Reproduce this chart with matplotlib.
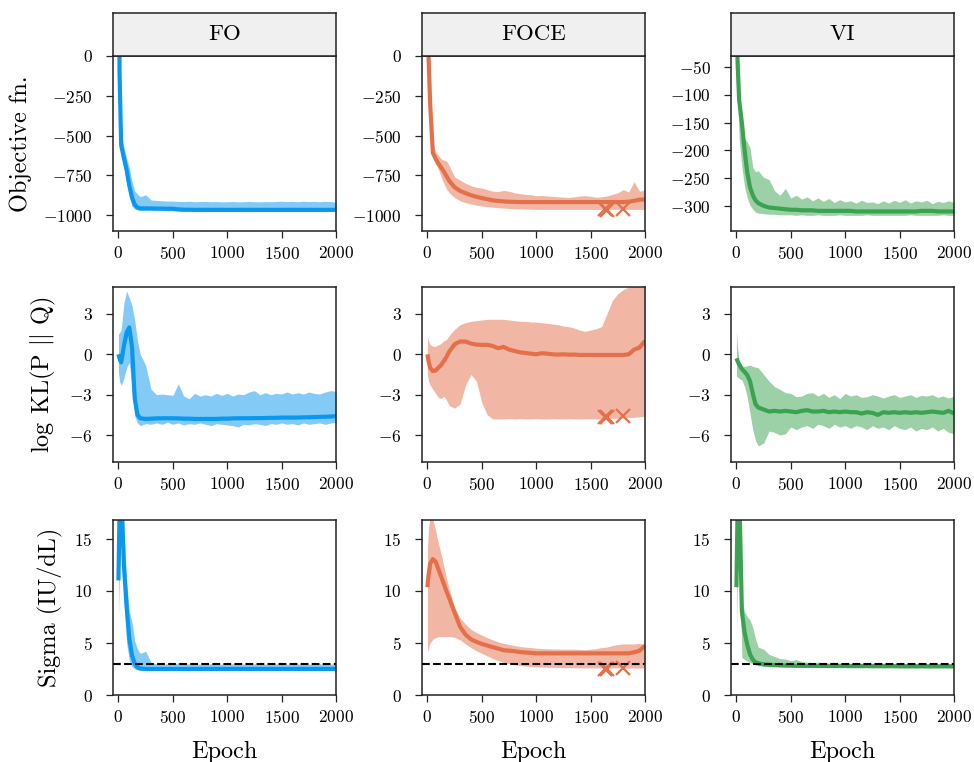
import matplotlib
matplotlib.use("Agg")
import matplotlib.pyplot as plt

# ---------------------------------------------------------------------------
# Data
# ---------------------------------------------------------------------------
EPOCHS = [0, 10, 25, 50, 75, 100, 125, 150, 175, 200,
          250, 300, 350, 400, 450, 500, 550, 600, 650, 700,
          750, 800, 850, 900, 950, 1000, 1050, 1100, 1150, 1200,
          1250, 1300, 1350, 1400, 1450, 1500, 1550, 1600, 1650, 1700,
          1750, 1800, 1850, 1900, 1950, 2000]

METHODS = ["FO", "FOCE", "VI"]
COLORS = ["#0A97EE", "#E4704A", "#3BA24F"]
ROW_LABELS = ["Objective fn.", r"log KL(P $||$ Q)", "Sigma (IU/dL)"]

# --- Objective function ---------------------------------------------------
FO_OBJ_MEAN = [3000, -100, -560, -640, -715, -815, -890, -935, -952, -958,
               -958, -958, -959, -959, -960, -960, -964, -966, -966, -967,
               -967, -967, -967, -967, -967, -967, -967, -967, -967, -967,
               -967, -967, -967, -967, -967, -967, -967, -967, -967, -967,
               -967, -967, -967, -967, -967, -967]
FO_OBJ_HI = [3000, 600, -480, -570, -640, -700, -790, -850, -868, -885,
             -872, -905, -908, -910, -912, -912, -914, -915, -913, -916,
             -915, -914, -916, -915, -917, -916, -915, -917, -916, -914,
             -916, -917, -915, -916, -914, -913, -915, -914, -916, -913,
             -915, -914, -916, -913, -915, -918]
FO_OBJ_LO = [1500, -300, -620, -700, -790, -880, -945, -962, -968, -970,
             -970, -971, -972, -972, -973, -973, -975, -976, -976, -977,
             -977, -977, -977, -977, -977, -977, -977, -977, -977, -977,
             -977, -977, -977, -977, -977, -977, -977, -977, -977, -977,
             -977, -977, -977, -977, -977, -977]

FOCE_OBJ_MEAN = [3000, 0, -300, -610, -645, -675, -700, -725, -755, -785,
                 -825, -848, -862, -875, -885, -893, -900, -907, -911, -914,
                 -916, -917, -918, -918, -918, -918, -918, -918, -918, -918,
                 -918, -918, -918, -918, -918, -918, -918, -918, -918, -918,
                 -918, -918, -916, -910, -903, -902]
FOCE_OBJ_HI = [3000, 500, -150, -560, -600, -625, -645, -655, -660, -690,
               -760, -780, -800, -815, -825, -830, -840, -850, -852, -845,
               -850, -860, -865, -870, -872, -878, -876, -880, -882, -885,
               -887, -889, -885, -880, -878, -882, -888, -885, -880, -870,
               -860, -840, -855, -790, -850, -842]
FOCE_OBJ_LO = [2000, -200, -450, -630, -680, -710, -760, -800, -835, -860,
               -890, -910, -922, -930, -937, -943, -947, -950, -954, -956,
               -958, -960, -961, -962, -963, -964, -964, -964, -964, -964,
               -964, -964, -964, -964, -964, -964, -964, -964, -964, -964,
               -964, -964, -964, -964, -964, -964]

VI_OBJ_MEAN = [200, -40, -110, -150, -200, -240, -266, -280, -289, -294,
               -299, -302, -303, -304, -305, -306, -306, -307, -307, -307,
               -308, -308, -308, -308, -308, -308, -308, -309, -309, -309,
               -309, -309, -309, -309, -309, -309, -309, -309, -309, -308,
               -308, -308, -309, -309, -309, -309]
VI_OBJ_HI = [200, 100, -100, -170, -178, -185, -195, -230, -238, -236,
             -248, -252, -272, -280, -268, -285, -280, -287, -283, -290,
             -285, -291, -286, -293, -288, -292, -290, -294, -289, -293,
             -292, -295, -290, -294, -289, -293, -288, -294, -290, -292,
             -289, -295, -291, -293, -290, -293]
VI_OBJ_LO = [100, -100, -180, -230, -265, -285, -298, -305, -310, -312,
             -313, -314, -314, -315, -315, -315, -316, -315, -316, -316,
             -315, -316, -316, -316, -315, -316, -316, -316, -316, -315,
             -316, -316, -316, -316, -316, -316, -316, -315, -316, -316,
             -316, -316, -316, -315, -316, -316]

# --- log KL ---------------------------------------------------------------
FO_KL_MEAN = [0.0, -0.3, -0.6, 0.6, 1.6, 2.0, 0.5, -3.3, -4.5, -4.75,
              -4.8, -4.78, -4.76, -4.75, -4.75, -4.75, -4.76, -4.78, -4.78, -4.8,
              -4.8, -4.8, -4.8, -4.8, -4.78, -4.78, -4.76, -4.75, -4.75, -4.75,
              -4.74, -4.74, -4.73, -4.72, -4.72, -4.7, -4.7, -4.7, -4.7, -4.68,
              -4.68, -4.66, -4.65, -4.64, -4.62, -4.6]
FO_KL_HI = [1.5, 1.6, 1.8, 3.8, 4.7, 4.2, 3.6, 2.5, 1.0, 0.0,
            -0.8, -2.6, -3.0, -2.95, -3.0, -3.05, -2.2, -3.1, -3.3, -2.9,
            -3.1, -3.0, -3.1, -2.9, -3.05, -2.9, -3.1, -2.95, -3.0, -2.8,
            -2.7, -3.0, -2.85, -3.0, -2.9, -2.95, -2.8, -2.95, -2.85, -2.95,
            -2.8, -2.9, -2.95, -2.8, -2.7, -2.75]
FO_KL_LO = [-1.3, -2.0, -2.3, -1.8, -1.0, -0.6, -2.6, -4.6, -5.1, -5.3,
            -5.15, -5.2, -5.1, -5.2, -5.05, -5.2, -5.1, -5.25, -5.15, -5.2,
            -5.1, -5.2, -5.3, -5.15, -5.2, -5.25, -5.3, -5.4, -5.2, -5.25,
            -5.15, -5.2, -5.3, -5.15, -5.2, -5.1, -5.2, -5.15, -5.25, -5.1,
            -5.2, -5.15, -5.1, -5.2, -5.1, -5.05]

FOCE_KL_MEAN = [0.0, -0.5, -1.0, -1.25, -1.2, -1.0, -0.8, -0.5, -0.2, 0.2,
                0.75, 0.95, 0.95, 0.8, 0.72, 0.7, 0.7, 0.62, 0.45, 0.55,
                0.35, 0.25, 0.15, 0.1, 0.05, 0.0, 0.08, 0.05, 0.0, -0.02,
                0.0, -0.03, -0.02, -0.05, -0.05, -0.05, -0.05, -0.05, -0.05, -0.05,
                -0.05, -0.05, 0.0, 0.35, 0.5, 1.0]
FOCE_KL_HI = [1.3, 1.0, 0.7, 0.6, 0.6, 0.7, 0.8, 1.0, 1.1, 1.4,
              1.85, 2.2, 2.35, 2.45, 2.5, 2.55, 2.6, 2.6, 2.6, 2.6,
              2.55, 2.5, 2.45, 2.45, 2.4, 2.4, 2.35, 2.3, 2.25, 2.2,
              2.1, 2.05, 1.95, 1.8, 1.7, 1.8, 1.9, 2.05, 3.0, 4.0,
              4.5, 4.8, 5.0, 5.2, 5.4, 5.5]
FOCE_KL_LO = [-1.5, -2.0, -2.3, -2.6, -2.9, -3.2, -3.3, -3.1, -3.4, -3.8,
              -4.0, -3.7, -2.3, -1.5, -2.0, -3.6, -4.5, -4.8, -4.8, -4.8,
              -4.78, -4.8, -4.78, -4.8, -4.8, -4.78, -4.8, -4.8, -4.78, -4.8,
              -4.8, -4.78, -4.8, -4.8, -4.78, -4.8, -4.8, -4.78, -4.78, -4.75,
              -4.75, -4.72, -4.7, -4.68, -4.65, -4.6]

VI_KL_MEAN = [-0.3, -0.5, -0.75, -1.1, -1.3, -1.55, -2.0, -2.9, -3.7, -3.95,
              -4.1, -4.25, -4.2, -4.25, -4.2, -4.25, -4.3, -4.2, -4.15, -4.25,
              -4.25, -4.2, -4.3, -4.25, -4.3, -4.25, -4.3, -4.3, -4.4, -4.3,
              -4.35, -4.5, -4.3, -4.35, -4.3, -4.35, -4.3, -4.35, -4.3, -4.35,
              -4.3, -4.25, -4.3, -4.35, -4.2, -4.4]
VI_KL_HI = [1.7, 0.5, -0.5, -0.85, -0.9, -0.85, -0.8, -0.9, -0.95, -1.0,
            -1.5, -2.0, -2.4, -2.6, -2.85, -2.9, -3.15, -3.1, -2.9, -2.85,
            -3.1, -2.9, -3.2, -3.0, -3.3, -2.9, -3.1, -3.0, -3.2, -3.15,
            -3.0, -3.1, -3.25, -3.1, -3.0, -3.2, -3.1, -3.0, -3.2, -3.05,
            -3.1, -3.0, -3.2, -3.1, -3.25, -3.1]
VI_KL_LO = [-1.6, -1.7, -1.8, -1.9, -2.4, -3.2, -4.4, -5.6, -6.4, -6.8,
            -6.6, -5.7, -5.8, -6.0, -5.9, -5.4, -5.6, -5.4, -5.3, -5.5,
            -5.2, -5.3, -5.5, -5.2, -5.4, -5.3, -5.5, -5.3, -5.4, -5.6,
            -5.3, -5.5, -5.4, -5.6, -5.3, -5.5, -5.6, -5.4, -5.7, -5.5,
            -5.6, -5.4, -5.7, -5.5, -5.8, -5.9]

# --- Sigma ----------------------------------------------------------------
FO_SIG_MEAN = [11.0, 17.5, 20.0, 12.5, 8.5, 5.4, 3.8, 3.0, 2.65, 2.55,
               2.5, 2.5, 2.5, 2.5, 2.5, 2.5, 2.5, 2.5, 2.5, 2.5,
               2.5, 2.5, 2.5, 2.5, 2.5, 2.5, 2.5, 2.5, 2.5, 2.5,
               2.5, 2.5, 2.5, 2.5, 2.5, 2.5, 2.5, 2.5, 2.5, 2.5,
               2.5, 2.5, 2.5, 2.5, 2.5, 2.5]
FO_SIG_HI = [11.2, 18.0, 22.0, 16.0, 11.0, 8.0, 7.0, 5.2, 4.4, 4.0,
             4.2, 3.1, 3.0, 2.95, 3.0, 2.95, 3.1, 2.95, 3.0, 2.95,
             2.98, 2.95, 3.0, 2.95, 2.97, 2.95, 3.0, 2.95, 2.97, 2.95,
             3.0, 2.95, 2.97, 2.95, 3.0, 2.95, 2.97, 2.95, 3.0, 2.95,
             2.97, 2.95, 3.0, 2.95, 2.97, 2.95]
FO_SIG_LO = [7.4, 12.0, 16.0, 9.5, 5.0, 3.3, 2.7, 2.5, 2.4, 2.35,
             2.35, 2.35, 2.35, 2.35, 2.35, 2.35, 2.35, 2.35, 2.35, 2.35,
             2.35, 2.35, 2.35, 2.35, 2.35, 2.35, 2.35, 2.35, 2.35, 2.35,
             2.35, 2.35, 2.35, 2.35, 2.35, 2.35, 2.35, 2.35, 2.35, 2.35,
             2.35, 2.35, 2.35, 2.35, 2.35, 2.35]

FOCE_SIG_MEAN = [10.35, 11.5, 12.6, 13.05, 12.8, 12.1, 11.4, 10.7, 9.95, 9.3,
                 7.9, 6.55, 5.8, 5.35, 5.1, 4.9, 4.75, 4.6, 4.45, 4.3,
                 4.25, 4.2, 4.12, 4.08, 4.05, 4.0, 4.0, 4.0, 4.0, 4.0,
                 4.0, 4.0, 4.0, 4.0, 4.0, 4.0, 4.0, 4.0, 4.0, 4.0,
                 4.0, 4.0, 4.0, 4.1, 4.25, 4.75]
FOCE_SIG_HI = [14.0, 16.0, 17.2, 16.8, 15.8, 14.6, 13.6, 12.4, 11.2, 10.2,
               8.4, 7.4, 6.8, 6.3, 6.0, 5.75, 5.5, 5.3, 5.1, 4.95,
               4.85, 4.75, 4.65, 4.6, 4.55, 4.5, 4.45, 4.45, 4.42, 4.42,
               4.4, 4.4, 4.4, 4.38, 4.35, 4.4, 4.45, 4.55, 4.6, 4.75,
               4.85, 4.9, 4.9, 4.9, 4.95, 4.8]
FOCE_SIG_LO = [4.1, 4.5, 5.0, 5.35, 5.5, 5.6, 5.6, 5.6, 5.6, 5.6,
               5.55, 5.3, 4.9, 4.55, 4.25, 4.0, 3.75, 3.5, 3.3, 3.15,
               3.0, 2.9, 2.82, 2.78, 2.72, 2.7, 2.68, 2.66, 2.65, 2.64,
               2.63, 2.62, 2.62, 2.61, 2.6, 2.6, 2.6, 2.6, 2.6, 2.6,
               2.6, 2.6, 2.59, 2.59, 2.58, 2.58]

VI_SIG_MEAN = [10.35, 17.5, 20.0, 8.0, 6.0, 4.8, 3.9, 3.4, 3.15, 3.05,
               2.95, 2.9, 2.88, 2.85, 2.83, 2.82, 2.8, 2.8, 2.8, 2.8,
               2.79, 2.79, 2.78, 2.78, 2.78, 2.78, 2.77, 2.77, 2.77, 2.77,
               2.76, 2.76, 2.76, 2.76, 2.76, 2.75, 2.75, 2.75, 2.75, 2.75,
               2.75, 2.75, 2.75, 2.75, 2.75, 2.75]
VI_SIG_HI = [10.5, 18.0, 20.0, 9.0, 8.0, 7.5, 7.2, 6.5, 5.4, 4.6,
             4.4, 3.9, 3.7, 3.5, 3.45, 3.3, 3.4, 3.2, 3.15, 3.1,
             3.15, 3.1, 3.05, 3.15, 3.05, 3.1, 3.05, 3.12, 3.05, 3.1,
             3.05, 3.12, 3.05, 3.08, 3.04, 3.1, 3.04, 3.08, 3.03, 3.08,
             3.03, 3.06, 3.02, 3.06, 3.02, 3.0]
VI_SIG_LO = [5.8, 12.0, 14.0, 3.6, 3.4, 3.25, 3.1, 3.0, 2.9, 2.82,
             2.75, 2.72, 2.7, 2.7, 2.7, 2.69, 2.69, 2.68, 2.68, 2.68,
             2.67, 2.67, 2.67, 2.66, 2.66, 2.66, 2.66, 2.65, 2.65, 2.65,
             2.65, 2.64, 2.64, 2.64, 2.64, 2.63, 2.63, 2.63, 2.63, 2.63,
             2.63, 2.62, 2.62, 2.62, 2.62, 2.62]

# FOCE runs that failed (marked with x)
FAIL_EPOCHS = [1630, 1650, 1800]
FAIL_OBJ = [-962, -965, -962]
FAIL_KL = [-4.68, -4.62, -4.58]
FAIL_SIG = [2.45, 2.5, 2.55]

SIGMA_TRUE = 3.0

PANELS = [
    [(FO_OBJ_MEAN, FO_OBJ_LO, FO_OBJ_HI),
     (FOCE_OBJ_MEAN, FOCE_OBJ_LO, FOCE_OBJ_HI),
     (VI_OBJ_MEAN, VI_OBJ_LO, VI_OBJ_HI)],
    [(FO_KL_MEAN, FO_KL_LO, FO_KL_HI),
     (FOCE_KL_MEAN, FOCE_KL_LO, FOCE_KL_HI),
     (VI_KL_MEAN, VI_KL_LO, VI_KL_HI)],
    [(FO_SIG_MEAN, FO_SIG_LO, FO_SIG_HI),
     (FOCE_SIG_MEAN, FOCE_SIG_LO, FOCE_SIG_HI),
     (VI_SIG_MEAN, VI_SIG_LO, VI_SIG_HI)],
]
FAILS = [FAIL_OBJ, FAIL_KL, FAIL_SIG]

YLIMS = [[(-1100, 0), (-1100, 0), (-344, -31)],
         [(-8, 5), (-8, 5), (-8, 5)],
         [(0, 16.8), (0, 16.8), (0, 16.8)]]
YTICKS = [[[0, -250, -500, -750, -1000], [0, -250, -500, -750, -1000],
           [-50, -100, -150, -200, -250, -300]],
          [[3, 0, -3, -6]] * 3,
          [[0, 5, 10, 15]] * 3]

# ---------------------------------------------------------------------------
# Style
# ---------------------------------------------------------------------------
plt.rcParams.update({
    "font.family": "serif",
    "font.serif": ["cmr10"],
    "mathtext.fontset": "cm",
    "axes.formatter.use_mathtext": True,
    "axes.unicode_minus": True,
    "axes.edgecolor": "#222222",
    "axes.linewidth": 1.1,
    "xtick.color": "#222222",
    "ytick.color": "#222222",
    "xtick.labelcolor": "black",
    "ytick.labelcolor": "black",
})

W, H = 974, 762
fig = plt.figure(figsize=(W / 100, H / 100), dpi=100)

COL_LEFT = [113, 422, 731]
AX_W = 223
ROW_TOP = [56, 287, 520]
AX_H = 175
STRIP_H = 43

for r in range(3):
    for c in range(3):
        rect = [COL_LEFT[c] / W, 1 - (ROW_TOP[r] + AX_H) / H, AX_W / W, AX_H / H]
        ax = fig.add_axes(rect)
        mean, lo, hi = PANELS[r][c]
        col = COLORS[c]
        ax.fill_between(EPOCHS, lo, hi, color=col, alpha=0.5, lw=0)
        ax.plot(EPOCHS, mean, color=col, lw=3, solid_capstyle="butt")
        if METHODS[c] == "FOCE":
            ax.plot(FAIL_EPOCHS, FAILS[r], "x", color=col, ms=10, mew=1.6)
        if r == 2:
            ax.axhline(SIGMA_TRUE, color="black", ls="--", lw=1.5)

        ax.set_xlim(-50, 2000)
        ax.set_ylim(*YLIMS[r][c])
        ax.set_xticks([0, 500, 1000, 1500, 2000])
        ax.set_yticks(YTICKS[r][c])
        ax.tick_params(axis="both", direction="out", length=5, width=0.9,
                       labelsize=12.5)
        ax.tick_params(axis="y", pad=9.5)
        ax.tick_params(axis="x", pad=5)

        if c == 0:
            ax.set_ylabel(ROW_LABELS[r], fontsize=17.5, labelpad=8)
        if r == 2:
            ax.set_xlabel("Epoch", fontsize=17.5, labelpad=10.5)

        if r == 0:
            srect = [COL_LEFT[c] / W, 1 - ROW_TOP[r] / H, AX_W / W, STRIP_H / H]
            sax = fig.add_axes(srect, facecolor="#f0f0f0")
            sax.set_xticks([])
            sax.set_yticks([])
            sax.text(0.5, 0.5, METHODS[c], ha="center", va="center",
                     fontsize=16.5, transform=sax.transAxes)

fig.savefig("out.png", dpi=100)
